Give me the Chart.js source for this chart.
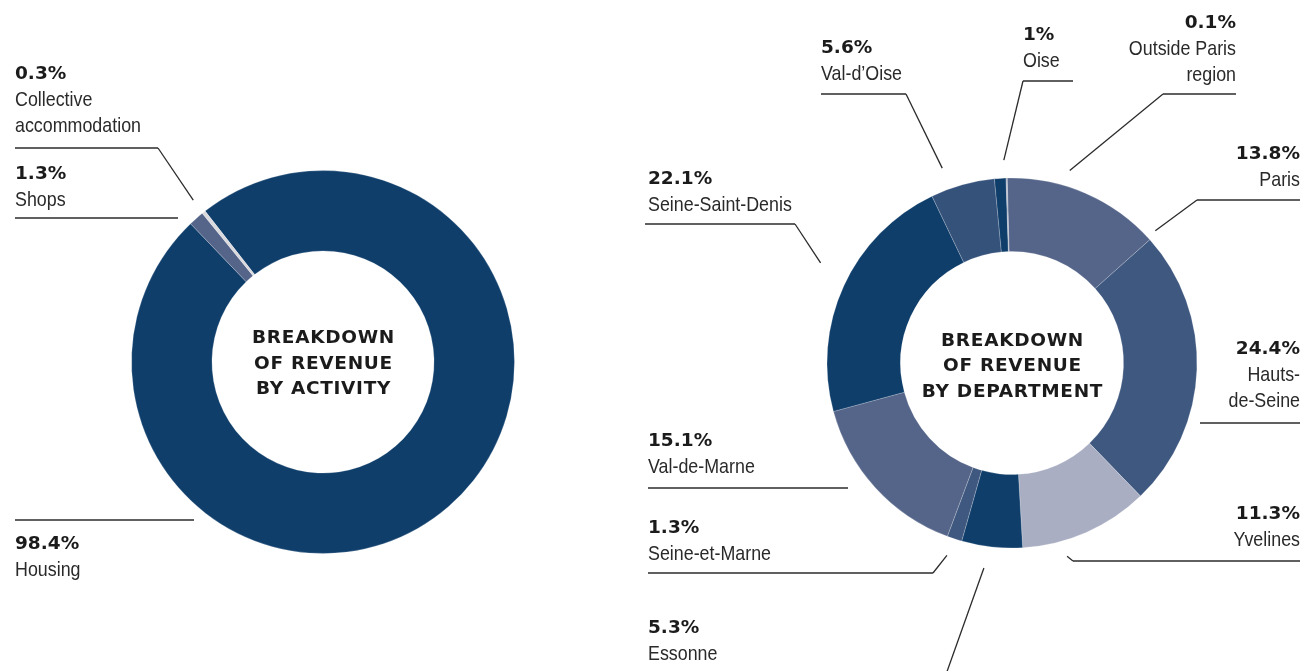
<!DOCTYPE html>
<html>
<head>
<meta charset="utf-8">
<script src="https://cdn.jsdelivr.net/npm/chart.js@4.4.1/dist/chart.umd.min.js"></script>
<style>
  html, body { margin: 0; padding: 0; background: #fff; }
  #page { position: relative; width: 1300px; height: 671px; overflow: hidden; }
  #page canvas { position: absolute; left: 0; top: 0; }
</style>
</head>
<body>
<div id="page">
  <canvas id="chartActivity" width="1300" height="671"></canvas>
  <canvas id="chartDepartment" width="1300" height="671"></canvas>
</div>
<script>
// ---- revenue by activity ----
const activityLabels = ['Housing', 'Shops', 'Collective accommodation'];
const activityNames = [['Housing'], ['Shops'], ['Collective', 'accommodation']];
const activityValues = [98.4, 1.3, 0.3];
const activityColors = ['#0f3e6b', '#556589', '#d9d9de'];

// ---- revenue by department (clockwise from the top) ----
const departmentLabels = ['Paris', 'Hauts-de-Seine', 'Yvelines', 'Essonne', 'Seine-et-Marne',
  'Val-de-Marne', 'Seine-Saint-Denis', 'Val-d’Oise', 'Oise', 'Outside Paris region'];
const departmentNames = [['Paris'], ['Hauts-', 'de-Seine'], ['Yvelines'], ['Essonne'], ['Seine-et-Marne'],
  ['Val-de-Marne'], ['Seine-Saint-Denis'], ['Val-d’Oise'], ['Oise'], ['Outside Paris', 'region']];
const departmentValues = [13.8, 24.4, 11.3, 5.3, 1.3, 15.1, 22.1, 5.6, 1, 0.1];
const departmentColors = ['#556589', '#3f5880', '#a9aec3', '#0f3e6b', '#3f5880',
  '#556589', '#0f3e6b', '#35527b', '#0f3e6b', '#a9aec3'];

const TEXT_COLOR = '#1b1b1b';
const NAME_COLOR = '#2a2a2a';
const LINE_COLOR = '#2b2b2b';
const PCT_FONT = 'bold 18.5px "DejaVu Sans", sans-serif';
const NAME_FONT = '21px "Liberation Sans", sans-serif';
const NAME_SQUEEZE = 0.85;   // noms en style condensé
const TITLE_FONT = 'bold 18.5px "DejaVu Sans", sans-serif';

// Callout labels : texte + filet horizontal + trait vers l'anneau
const calloutPlugin = {
    id: 'callouts',
    afterDraw(chart, args, opts) {
        const ctx = chart.ctx;
        const meta = chart.getDatasetMeta(0);
        const arc = meta.data[0];
        const cx = arc.x, cy = arc.y, R = arc.outerRadius;
        const values = chart.data.datasets[0].data;

        ctx.save();

        // titre au centre
        ctx.fillStyle = TEXT_COLOR;
        ctx.font = TITLE_FONT;
        ctx.textAlign = 'center';
        ctx.textBaseline = 'alphabetic';
        if ('letterSpacing' in ctx) ctx.letterSpacing = '0.7px';
        opts.title.forEach((line, k) => {
            ctx.fillText(line, cx + 0.5, cy + opts.titleTop + k * 25.5);
        });
        if ('letterSpacing' in ctx) ctx.letterSpacing = '0px';

        opts.items.forEach(item => {
            ctx.textAlign = item.align;
            ctx.fillStyle = TEXT_COLOR;
            ctx.font = PCT_FONT;
            ctx.fillText(values[item.i] + '%', item.x, item.base);
            ctx.font = NAME_FONT;
            ctx.fillStyle = NAME_COLOR;
            opts.names[item.i].forEach((line, k) => {
                const w = ctx.measureText(line).width * NAME_SQUEEZE;
                ctx.fillText(line, item.x, item.base + 27 + k * 25.5, w);
            });

            ctx.strokeStyle = LINE_COLOR;
            ctx.lineWidth = 1.3;
            if (item.rule) {
                const [x1, x2, y] = item.rule;
                ctx.beginPath();
                ctx.moveTo(x1, y);
                ctx.lineTo(x2, y);
                ctx.stroke();
            }
            if (item.leader) {
                const a = (item.leader.deg - 90) * Math.PI / 180;
                const r = R + item.leader.gap;
                ctx.beginPath();
                ctx.moveTo(cx + r * Math.cos(a), cy + r * Math.sin(a));
                ctx.lineTo(item.leader.to[0], item.leader.to[1]);
                ctx.stroke();
            }
        });
        ctx.restore();
    }
};

function doughnut(id, labels, values, colors, extra) {
    return new Chart(document.getElementById(id), {
        type: 'doughnut',
        data: {
            labels: labels,
            datasets: [{
                data: values,
                backgroundColor: colors,
                borderColor: 'rgba(255,255,255,0.35)',
                borderWidth: 0.6
            }]
        },
        options: {
            responsive: false,
            animation: false,
            events: [],
            rotation: extra.rotation,
            cutout: extra.cutout,
            radius: extra.radius,
            layout: { padding: extra.padding },
            plugins: {
                legend: { display: false },
                tooltip: { enabled: false },
                callouts: extra.callouts
            }
        },
        plugins: [calloutPlugin]
    });
}

doughnut('chartActivity', activityLabels, activityValues, activityColors, {
    rotation: -38,
    cutout: '58%',
    radius: 191.5,
    padding: { left: 0, right: 654, top: 53, bottom: 0 },
    callouts: {
        title: ['BREAKDOWN', 'OF REVENUE', 'BY ACTIVITY'],
        titleTop: -19,
        names: activityNames,
        items: [
            { i: 2, x: 15, base: 79, align: 'left', rule: [15, 158, 148],
              leader: { deg: -38.7, gap: 16, to: [158, 148] } },
            { i: 1, x: 15, base: 179, align: 'left', rule: [15, 178, 218] },
            { i: 0, x: 15, base: 549, align: 'left', rule: [15, 194, 520] }
        ]
    }
});

doughnut('chartDepartment', departmentLabels, departmentValues, departmentColors, {
    rotation: -1.5,
    cutout: '60.3%',
    radius: 185,
    padding: { left: 724, right: 0, top: 55, bottom: 0 },
    callouts: {
        title: ['BREAKDOWN', 'OF REVENUE', 'BY DEPARTMENT'],
        titleTop: -17.5,
        names: departmentNames,
        items: [
            { i: 7, x: 821, base: 53, align: 'left', rule: [821, 906, 94],
              leader: { deg: -19.7, gap: 22, to: [906, 94] } },
            { i: 8, x: 1023, base: 40, align: 'left', rule: [1023, 1073, 81],
              leader: { deg: -2.3, gap: 18, to: [1023, 81] } },
            { i: 9, x: 1236, base: 28, align: 'right', rule: [1163, 1236, 94],
              leader: { deg: 16.7, gap: 16, to: [1163, 94] } },
            { i: 0, x: 1300, base: 159, align: 'right', rule: [1197, 1300, 200],
              leader: { deg: 47.3, gap: 10, to: [1197, 200] } },
            { i: 1, x: 1300, base: 354, align: 'right', rule: [1200, 1300, 423] },
            { i: 2, x: 1300, base: 519, align: 'right', rule: [1073, 1300, 561],
              leader: { deg: 164.1, gap: 16, to: [1073, 561] } },
            { i: 3, x: 648, base: 633, align: 'left',
              leader: { deg: 187.8, gap: 22, to: [944, 680] } },
            { i: 4, x: 648, base: 533, align: 'left', rule: [648, 933, 573],
              leader: { deg: 198.7, gap: 18, to: [933, 573] } },
            { i: 5, x: 648, base: 446, align: 'left', rule: [648, 848, 488] },
            { i: 6, x: 648, base: 184, align: 'left', rule: [645, 795, 224],
              leader: { deg: -62.4, gap: 31, to: [795, 224] } }
        ]
    }
});
</script>
</body>
</html>
